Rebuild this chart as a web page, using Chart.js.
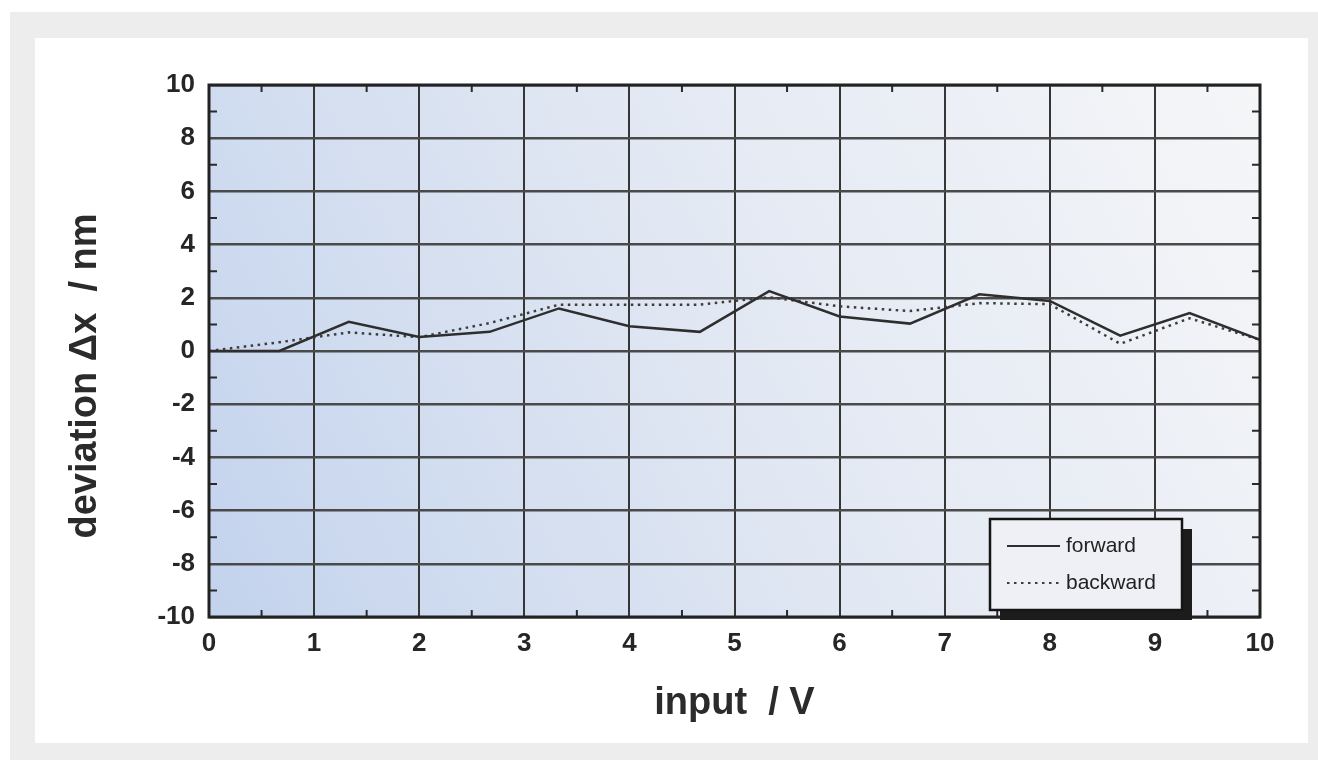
<!DOCTYPE html>
<html>
<head>
<meta charset="utf-8">
<title>deviation</title>
<script src="https://cdn.jsdelivr.net/npm/chart.js@4.4.1/dist/chart.umd.min.js"></script>
<style>
    body { margin: 0; background: #ffffff; }
    #frame { position: absolute; left: 10px; top: 12px; width: 1308px; height: 748px; background: #ededed; }
    #panel { position: absolute; left: 25px; top: 26px; width: 1273px; height: 705px; background: #ffffff; }
</style>
</head>
<body>
<div id="frame">
    <div id="panel">
        <canvas id="deviation" width="1273" height="705"></canvas>
    </div>
</div>
<script>
const inputVolts = [0, 0.67, 1.33, 2, 2.67, 3.33, 4, 4.67, 5.33, 6, 6.67, 7.33, 8, 8.67, 9.33, 10];
const forwardDev = [0, 0, 1.1, 0.53, 0.72, 1.6, 0.93, 0.72, 2.25, 1.3, 1.03, 2.13, 1.88, 0.58, 1.43, 0.42];
const backwardDev = [0, 0.33, 0.7, 0.52, 1.05, 1.74, 1.74, 1.74, 2.02, 1.68, 1.5, 1.8, 1.76, 0.27, 1.23, 0.42];
const seriesLabels = ["forward", "backward"];
const xTitle = "input  / V";
const yTitle = "deviation \u0394x  / nm";
const xRange = [0, 10];
const yRange = [-10, 10];

const tickFont = { family: "'Liberation Sans', Arial, sans-serif", size: 26, weight: "bold" };
const titleFont = "bold 38px 'Liberation Sans', Arial, sans-serif";

function toPoints(xs, ys){
    return xs.map(function(x, i){ return { x: x, y: ys[i] }; });
}

// plot background, frame, inner minor ticks, y title, legend box
const paperPlugin = {
    id: "paper",
    beforeDraw: function(chart){
        const a = chart.chartArea;
        const ctx = chart.ctx;
        const g = ctx.createLinearGradient(a.left, a.bottom, a.right, a.top);
        g.addColorStop(0, "#c3d3ed");
        g.addColorStop(0.5, "#e2e8f3");
        g.addColorStop(1, "#f5f6f8");
        ctx.save();
        ctx.fillStyle = g;
        ctx.fillRect(a.left, a.top, a.right - a.left, a.bottom - a.top);
        ctx.restore();
    },
    afterDraw: function(chart){
        const a = chart.chartArea;
        const ctx = chart.ctx;
        const xs = chart.scales.x, ys = chart.scales.y;
        ctx.save();

        ctx.strokeStyle = "#2a2a2a";
        ctx.lineWidth = 2;
        ctx.beginPath();
        for (let v = xRange[0] + 0.5; v < xRange[1]; v += 1) {
            const px = xs.getPixelForValue(v);
            ctx.moveTo(px, a.bottom); ctx.lineTo(px, a.bottom - 7);
            ctx.moveTo(px, a.top); ctx.lineTo(px, a.top + 7);
        }
        for (let v = yRange[0] + 1; v < yRange[1]; v += 2) {
            const py = ys.getPixelForValue(v);
            ctx.moveTo(a.left, py); ctx.lineTo(a.left + 8, py);
            ctx.moveTo(a.right, py); ctx.lineTo(a.right - 8, py);
        }
        ctx.stroke();

        ctx.lineWidth = 3;
        ctx.strokeStyle = "#222";
        ctx.strokeRect(a.left, a.top, a.right - a.left, a.bottom - a.top);

        ctx.fillStyle = "#2b2b2b";
        ctx.font = titleFont;
        ctx.textAlign = "center";
        ctx.textBaseline = "middle";
        ctx.translate(51, (a.top + a.bottom) / 2 + 25);
        ctx.rotate(-Math.PI / 2);
        ctx.fillText(yTitle, 0, 0);
        ctx.restore();

        drawLegend(chart);
    }
};

function drawLegend(chart){
    const a = chart.chartArea;
    const ctx = chart.ctx;
    const bx = a.right - 270, by = a.bottom - 98, bw = 192, bh = 91;
    ctx.save();
    ctx.fillStyle = "#1c1c1c";
    ctx.fillRect(bx + 10, by + 10, bw, bh);
    ctx.fillStyle = "#eef0f6";
    ctx.fillRect(bx, by, bw, bh);
    ctx.lineWidth = 2.5;
    ctx.strokeStyle = "#151515";
    ctx.strokeRect(bx, by, bw, bh);

    chart.data.datasets.forEach(function(ds, i){
        const ly = by + 27 + i * 37;
        ctx.beginPath();
        ctx.setLineDash(ds.borderDash || []);
        ctx.lineWidth = 2;
        ctx.strokeStyle = ds.borderColor;
        ctx.moveTo(bx + 17, ly);
        ctx.lineTo(bx + 70, ly);
        ctx.stroke();
        ctx.setLineDash([]);
        ctx.fillStyle = "#222";
        ctx.font = "21px 'Liberation Sans', Arial, sans-serif";
        ctx.textAlign = "left";
        ctx.textBaseline = "middle";
        ctx.fillText(ds.label, bx + 76, ly);
    });
    ctx.restore();
}

let deviationChart;

function loadDeviationChart(){
    const ctx = document.getElementById("deviation").getContext("2d");

    if (deviationChart) {
        deviationChart.destroy();
    }

    deviationChart = new Chart(ctx, {
        type: "line",
        data: {
            datasets: [{
                label: seriesLabels[0],
                data: toPoints(inputVolts, forwardDev),
                borderColor: "#2e2e2e",
                borderWidth: 2.5,
                pointRadius: 0,
                tension: 0,
                fill: false
            }, {
                label: seriesLabels[1],
                data: toPoints(inputVolts, backwardDev),
                borderColor: "#3c3c3c",
                borderWidth: 2.5,
                borderDash: [2.5, 4.5],
                pointRadius: 0,
                tension: 0,
                fill: false
            }]
        },
        options: {
            responsive: false,
            animation: false,
            layout: { padding: { left: 0, top: 47, right: 48, bottom: 0 } },
            plugins: {
                legend: { display: false },
                tooltip: { enabled: false }
            },
            scales: {
                x: {
                    type: "linear",
                    min: xRange[0],
                    max: xRange[1],
                    afterFit: function(scale){ scale.height = 126; },
                    border: { display: false },
                    grid: { color: "#363636", lineWidth: 2, drawTicks: false },
                    ticks: { stepSize: 1, color: "#262626", font: tickFont, padding: 11 },
                    title: {
                        display: true,
                        text: xTitle,
                        color: "#2b2b2b",
                        font: { family: "'Liberation Sans', Arial, sans-serif", size: 38, weight: "bold" },
                        padding: { top: 0, bottom: 17 }
                    }
                },
                y: {
                    type: "linear",
                    min: yRange[0],
                    max: yRange[1],
                    afterFit: function(scale){ scale.width = 174; },
                    border: { display: false },
                    grid: { color: "#4a4a4a", lineWidth: 2.5, drawTicks: false },
                    ticks: { stepSize: 2, color: "#262626", font: tickFont, padding: 14 }
                }
            }
        },
        plugins: [paperPlugin]
    });
}

loadDeviationChart();
</script>
</body>
</html>
